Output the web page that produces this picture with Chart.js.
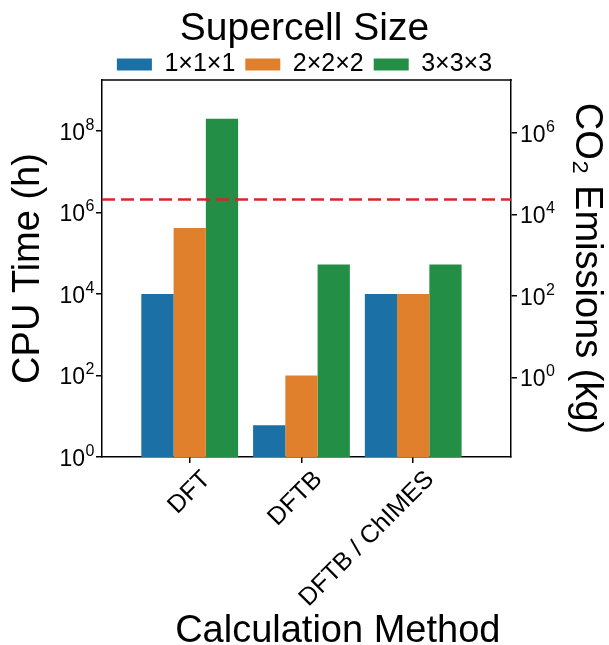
<!DOCTYPE html>
<html>
<head>
<meta charset="utf-8">
<script src="https://cdn.jsdelivr.net/npm/chart.js@4/dist/chart.umd.min.js"></script>
<style>
html,body{margin:0;padding:0;background:#fff;}
#wrap{width:609px;height:645px;}
</style>
</head>
<body>
<div id="wrap"><canvas id="c" width="609" height="645"></canvas></div>
<script>
// ---- data ----
const categories = ['DFT', 'DFTB', 'DFTB / ChIMES'];
const seriesNames = ['1×1×1', '2×2×2', '3×3×3'];
const cpu111 = [1e4, 6, 1e4];
const cpu222 = [4.2e5, 100, 1e4];
const cpu333 = [2e8, 5.3e4, 5.3e4];
const thresholdHours = 2.1e6;
const leftTicks = [1, 1e2, 1e4, 1e6, 1e8];
const leftTickExponents = ['0', '2', '4', '6', '8'];
const rightTicks = [1, 1e2, 1e4, 1e6];
const rightTickExponents = ['0', '2', '4', '6'];
const kgPerHour = 0.0112;
const yMin = 1, yMax = 1.8e9;
const xMin = -0.785, xMax = 2.875;

const colors = ['#1b70a6', '#e0802c', '#238f46'];
const FONT = "'Liberation Sans', Arial, sans-serif";

function toPts(arr){ return arr.map((v,i)=>({x:i, y:v})); }

const datasets = [cpu111, cpu222, cpu333].map((arr, k) => ({
  type: 'bar',
  label: seriesNames[k],
  data: toPts(arr),
  backgroundColor: colors[k],
  borderWidth: 0,
  categoryPercentage: 0.866,
  barPercentage: 1.0,
  yAxisID: 'y',
  order: 2
}));
datasets.push({
  type: 'line',
  label: 'threshold',
  data: [{x:xMin, y:thresholdHours}, {x:xMax, y:thresholdHours}],
  borderColor: '#d62728',
  borderWidth: 2.5,
  borderDash: [13, 6],
  pointRadius: 0,
  fill: false,
  yAxisID: 'y',
  order: 1
});

// frame top line + power-of-ten tick labels with real superscripts
const framePlugin = {
  id: 'framePlugin',
  afterDraw(chart){
    const {ctx, chartArea} = chart;
    ctx.save();
    ctx.strokeStyle = '#000';
    ctx.lineWidth = 1.5;
    ctx.beginPath();
    ctx.moveTo(chartArea.left - 0.75, chartArea.top);
    ctx.lineTo(chartArea.right + 0.75, chartArea.top);
    ctx.stroke();

    const drawLabels = (scale, values, exps, side) => {
      values.forEach((v, i) => {
        const y = scale.getPixelForValue(v);
        ctx.fillStyle = '#000';
        ctx.textBaseline = 'alphabetic';
        ctx.font = `23px ${FONT}`;
        const wBase = ctx.measureText('10').width;
        ctx.font = `16px ${FONT}`;
        const wExp = ctx.measureText(exps[i]).width;
        let x0;
        if (side === 'left') x0 = chartArea.left - 8 - wBase - wExp;
        else x0 = chartArea.right + 9;
        ctx.textAlign = 'left';
        ctx.font = `23px ${FONT}`;
        ctx.fillText('10', x0, y + 8.5);
        ctx.font = `16px ${FONT}`;
        ctx.fillText(exps[i], x0 + wBase + 0.5, y - 1.5);
      });
    };
    drawLabels(chart.scales.y, leftTicks, leftTickExponents, 'left');
    drawLabels(chart.scales.y2, rightTicks, rightTickExponents, 'right');
    ctx.restore();
  }
};

new Chart(document.getElementById('c'), {
  data: { datasets },
  plugins: [framePlugin],
  options: {
    responsive: false,
    animation: false,
    layout: { padding: { left: 0, right: 0, top: 0, bottom: 0 } },
    plugins: {
      legend: {
        display: true,
        position: 'top',
        maxHeight: 80,
        title: { display: true, text: 'Supercell Size', color: '#000',
                 font: { family: FONT, size: 39, lineHeight: 1.0 }, padding: { top: 10, bottom: -7 } },
        labels: {
          filter: (item) => item.text !== 'threshold',
          color: '#000',
          font: { family: FONT, size: 25 },
          boxWidth: 35, boxHeight: 12, padding: 10
        }
      },
      tooltip: { enabled: false }
    },
    scales: {
      x: {
        type: 'linear',
        position: 'bottom',
        offset: false,
        min: xMin, max: xMax,
        afterBuildTicks: (s) => { s.ticks = categories.map((_, i) => ({value: i})); },
        afterFit: (s) => { s.height = 188; },
        ticks: {
          callback: (v) => categories[v],
          color: '#000',
          font: { family: FONT, size: 25 },
          minRotation: 45, maxRotation: 45, padding: 2, autoSkip: false,
          labelOffset: 17
        },
        grid: { offset: false, drawOnChartArea: false, drawTicks: true, tickLength: 6, color: '#000', lineWidth: 1.5 },
        border: { display: true, color: '#000', width: 1.5 },
        title: { display: true, text: 'Calculation Method ', color: '#000', align: 'end',
                 font: { family: FONT, size: 38 }, padding: { top: 0, bottom: -9 } }
      },
      y: {
        type: 'logarithmic',
        position: 'left',
        min: yMin, max: yMax,
        afterBuildTicks: (s) => { s.ticks = leftTicks.map(v => ({value: v})); },
        afterFit: (s) => { s.width = 102; },
        ticks: { display: false, autoSkip: false },
        grid: { drawOnChartArea: false, drawTicks: true, tickLength: 6, color: '#000', lineWidth: 1.5 },
        border: { display: true, color: '#000', width: 1.5 },
        title: { display: true, text: 'CPU Time (h)', color: '#000',
                 font: { family: FONT, size: 38 }, padding: { top: 6, bottom: 0 } }
      },
      y2: {
        type: 'logarithmic',
        position: 'right',
        min: yMin * kgPerHour, max: yMax * kgPerHour,
        afterBuildTicks: (s) => { s.ticks = rightTicks.map(v => ({value: v})); },
        afterFit: (s) => { s.width = 98; },
        ticks: { display: false, autoSkip: false },
        grid: { drawOnChartArea: false, drawTicks: true, tickLength: 6, color: '#000', lineWidth: 1.5 },
        border: { display: true, color: '#000', width: 1.5 },
        title: { display: true, text: 'CO₂ Emissions (kg)', color: '#000',
                 font: { family: FONT, size: 38 }, padding: { top: 0, bottom: 4 } }
      }
    }
  }
});
</script>
</body>
</html>
